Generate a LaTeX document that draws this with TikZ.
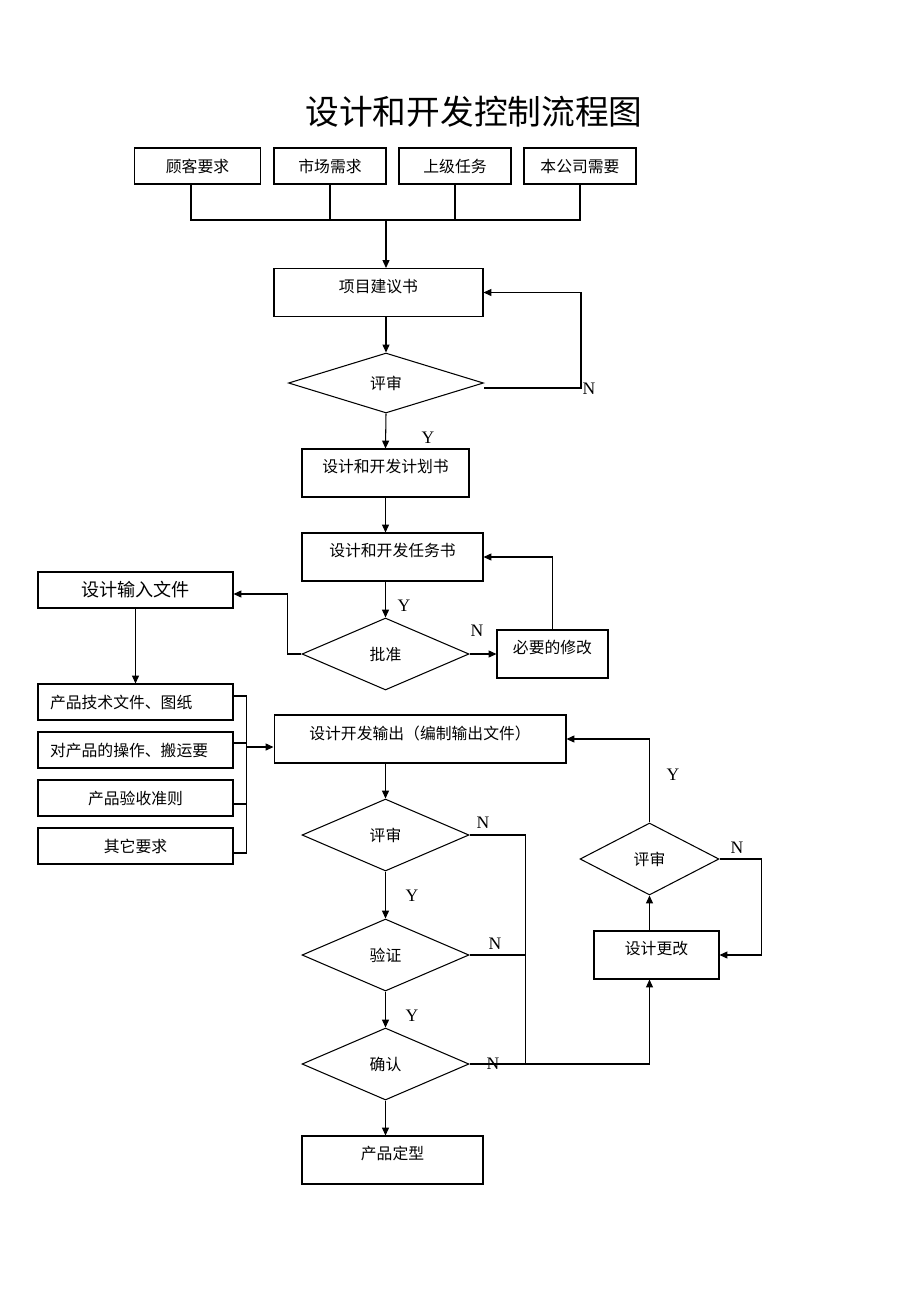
\documentclass[tikz,border=0pt]{standalone}
\usepackage{fontspec}
\setmainfont{Liberation Serif}
\newfontfamily\cjk{Noto Sans CJK SC}
\usetikzlibrary{arrows.meta, shapes.geometric}

\begin{document}
\begin{tikzpicture}[
    x=0.02cm, y=-0.02cm, % one unit = one pixel of the page
    line width=0.6pt,
    >={Triangle[length=4.5pt, width=4pt]}, % small filled arrowheads
    box/.style={draw, rectangle, inner sep=0pt, minimum height=0.72cm, font=\cjk\fontsize{9}{11}\selectfont},
    tallbox/.style={box, minimum height=0.96cm, text depth=0.27cm}, % text sits in the upper part
    listbox/.style={box, minimum width=3.9cm},
    leftlist/.style={listbox, text width=3.42cm, align=left, inner xsep=0.24cm},
    decision/.style={draw, diamond, inner sep=0pt, minimum width=3.34cm, minimum height=1.44cm, font=\cjk\fontsize{9}{11}\selectfont},
    yn/.style={font=\fontsize{10}{12}\selectfont}
]
    \useasboundingbox (0,0) rectangle (920,1302);

    % === Title ===
    \node[font=\cjk\fontsize{19.2}{23}\selectfont] (title) at (474,112) {设计和开发控制流程图};

    % === Sources ===
    \node[box, minimum width=2.52cm] (kehu) at (197.5,166) {顾客要求};
    \node[box, minimum width=2.24cm] (shichang) at (330,166) {市场需求};
    \node[box, minimum width=2.24cm] (shangji) at (455,166) {上级任务};
    \node[box, minimum width=2.24cm] (bengongsi) at (580,166) {本公司需要};
    \coordinate (bus) at (386,220);

    % === Main column ===
    \node[tallbox, minimum width=4.18cm] (jianyi) at (378.5,292.5) {项目建议书};
    \node[decision, minimum width=3.9cm, minimum height=1.2cm] (pingshen1) at (386,383) {评审};
    \node[tallbox, minimum width=3.34cm] (jihua) at (385.5,473) {设计和开发计划书};
    \node[tallbox, minimum width=3.62cm] (renwu) at (392.5,557) {设计和开发任务书};
    \node[decision] (pizhun) at (385.5,654) {批准};
    \node[tallbox, minimum width=2.22cm] (xiugai) at (552.5,654) {必要的修改};

    % === Design inputs ===
    \node[listbox, font=\cjk\fontsize{10.3}{12}\selectfont] (shuru) at (135.5,590) {设计输入文件};
    \node[leftlist] (jishu) at (135.5,702) {产品技术文件、图纸};
    \node[leftlist] (caozuo) at (135.5,750) {对产品的操作、搬运要};
    \node[listbox] (yanshou) at (135.5,798) {产品验收准则};
    \node[listbox] (qita) at (135.5,846) {其它要求};

    % === Outputs and checks ===
    \node[tallbox, minimum width=5.84cm] (shuchu) at (420,739) {设计开发输出（编制输出文件）};
    \node[decision] (pingshen2) at (385.5,835) {评审};
    \node[decision] (yanzheng) at (385.5,955) {验证};
    \node[decision] (queren) at (385.5,1064) {确认};
    \node[tallbox, minimum width=3.62cm] (dingxing) at (392.5,1160) {产品定型};
    \node[tallbox, minimum width=2.5cm] (genggai) at (656.5,955) {设计更改};
    \node[decision, minimum width=2.78cm] (pingshen3) at (649.5,859) {评审};

    % === Connectors: sources ===
    \draw ([xshift=-0.13cm]kehu.south) |- (bus) -| (bengongsi.south);
    \draw (shichang.south) -- (shichang.south |- bus);
    \draw (shangji.south) -- (shangji.south |- bus);
    \draw[->] (bus) -- (bus |- jianyi.north);

    % === Connectors: main column ===
    \draw[->] (jianyi.south -| pingshen1.north) -- (pingshen1.north);
    \draw[->] ([yshift=-0.1cm]pingshen1.east) -- ++(97,0) |- (jianyi.east);
    \draw[->] (pingshen1.south) -- (jihua.north);
    \draw[->] (jihua.south) -- (jihua.south |- renwu.north);
    \draw[->] (renwu.south -| pizhun.north) -- (pizhun.north);
    \draw[->] (pizhun.east) -- (xiugai.west);
    \draw[->] (xiugai.north) |- (renwu.east);
    \draw[->] (pizhun.west) -- ++(-14,0) |- ([yshift=-0.08cm]shuru.east);

    % === Connectors: inputs ===
    \draw[->] (shuru.south) -- (jishu.north);
    \draw ([yshift=0.12cm]jishu.east) -- ++(13,0) |- ([yshift=-0.14cm]qita.east);
    \draw ([yshift=-0.12cm]yanshou.east) -- ++(13,0);
    \draw ([yshift=0.14cm]caozuo.east) -- ++(13,0);
    \coordinate (merge) at ([xshift=0.26cm, yshift=0.06cm]caozuo.east);
    \draw[->] (merge) -- (merge -| shuchu.west);

    % === Connectors: checks ===
    \draw[->] (shuchu.south -| pingshen2.north) -- (pingshen2.north);
    \draw[->] (pingshen2.south) -- (yanzheng.north);
    \draw[->] (yanzheng.south) -- (queren.north);
    \draw[->] (queren.south) -- (queren.south |- dingxing.north);
    \draw (pingshen2.east) -- ++(56,0) |- (queren.east);
    \draw (yanzheng.east) -- ++(56,0);
    \draw[->] (queren.east) -| (genggai.south -| pingshen3.south);
    \draw[->] (genggai.north -| pingshen3.south) -- (pingshen3.south);
    \draw[->] (pingshen3.east) -- ++(42,0) |- (genggai.east);
    \draw[->] (pingshen3.north) |- (shuchu.east);

    % === Y / N labels ===
    \node[yn] (n1) at (589,389) {N};
    \node[yn] (y1) at (428,438) {Y};
    \node[yn] (y2) at (404,606) {Y};
    \node[yn] (n2) at (477,631) {N};
    \node[yn] (n3) at (483,823) {N};
    \node[yn] (y3) at (412,896) {Y};
    \node[yn] (n4) at (495,944) {N};
    \node[yn] (y4) at (412,1016) {Y};
    \node[yn] (n5) at (493,1064) {N};
    \node[yn] (n6) at (737,848) {N};
    \node[yn] (y5) at (673,775) {Y};

\end{tikzpicture}
\end{document}
